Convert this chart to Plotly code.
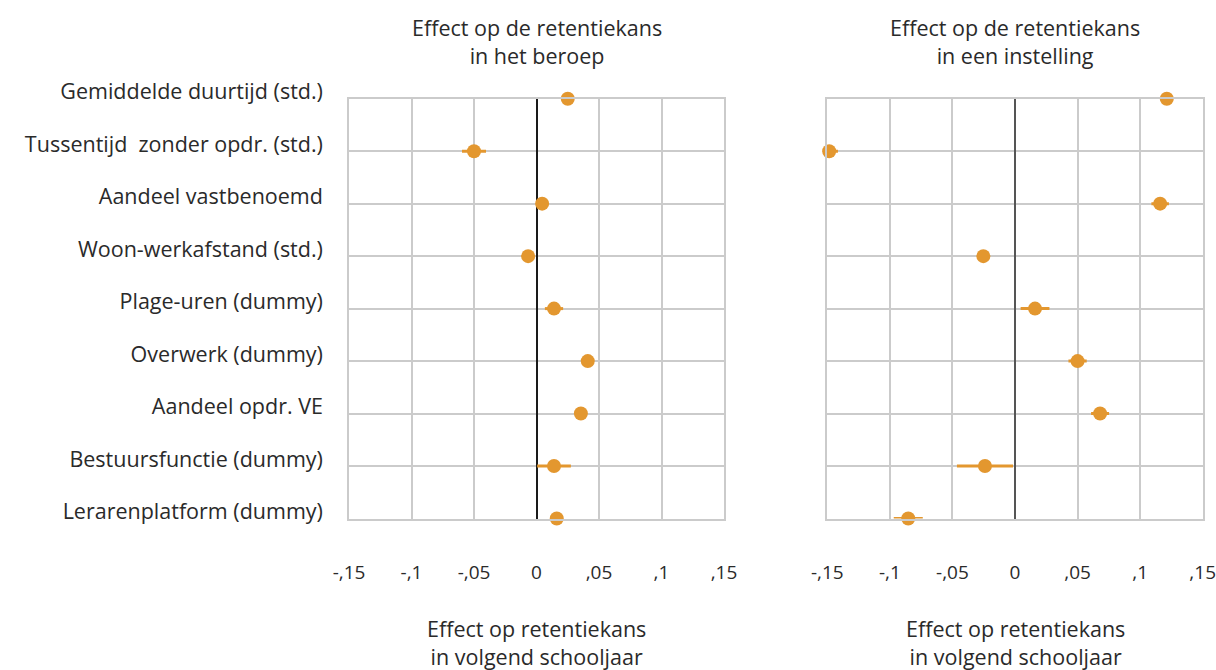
import plotly.graph_objects as go

categories = [
    "Gemiddelde duurtijd (std.)",
    "Tussentijd  zonder opdr. (std.)",
    "Aandeel vastbenoemd",
    "Woon-werkafstand (std.)",
    "Plage-uren (dummy)",
    "Overwerk (dummy)",
    "Aandeel opdr. VE",
    "Bestuursfunctie (dummy)",
    "Lerarenplatform (dummy)",
]

beroep_effect = [0.025, -0.050, 0.0045, -0.0067, 0.014, 0.041, 0.0355, 0.014, 0.0162]
beroep_err = [0.004, 0.0096, 0.004, 0.004, 0.0073, 0.004, 0.004, 0.0135, 0.004]

instelling_effect = [0.1213, -0.1485, 0.116, -0.0253, 0.016, 0.050, 0.068, -0.024, -0.0853]
instelling_err = [0.005, 0.007, 0.007, 0.005, 0.0115, 0.0073, 0.0072, 0.0224, 0.0116]

tick_vals = [-0.15, -0.1, -0.05, 0, 0.05, 0.1, 0.15]
tick_text = ["-,15", "-,1", "-,05", "0", ",05", ",1", ",15"]

top_titles = ["Effect op de retentiekans<br>in het beroep",
              "Effect op de retentiekans<br>in een instelling"]
bottom_title = "Effect op retentiekans<br>in volgend schooljaar"

ORANGE = "#E3972F"
GRID = "#CBCBCB"
TEXT = "#2a2a2a"
FONT = "Open Sans"
FS = 21.5
TICK_FS = 19

W, H = 1216, 670

fig = go.Figure()

for i, (vals, errs) in enumerate([(beroep_effect, beroep_err), (instelling_effect, instelling_err)]):
    ax = "" if i == 0 else "2"
    fig.add_trace(go.Scatter(
        x=vals, y=categories, mode="markers",
        xaxis="x" + ax, yaxis="y" + ax,
        marker=dict(color=ORANGE, size=14),
        error_x=dict(type="data", array=errs, visible=True, color=ORANGE, thickness=3, width=0),
        cliponaxis=False, showlegend=False,
    ))

x_domains = [[349 / W, 724 / W], [827.3 / W, 1202.7 / W]]
y_domain = [1 - 518.5 / H, 1 - 98.7 / H]

common_x = dict(
    range=[-0.15, 0.15], tickvals=tick_vals, ticktext=tick_text,
    showgrid=True, gridcolor=GRID, gridwidth=1.5,
    zeroline=True, zerolinewidth=1.5,
    showline=True, mirror=True, linecolor=GRID, linewidth=1.5,
    ticks="", ticklabelstandoff=36, automargin=False,
    ticklabeloverflow="allow",
    tickfont=dict(family=FONT, size=TICK_FS, color=TEXT),
    fixedrange=True,
)
common_y = dict(
    type="category", categoryorder="array", categoryarray=categories,
    range=[len(categories) - 1, 0],
    showgrid=True, gridcolor=GRID, gridwidth=1.5,
    showline=True, mirror=True, linecolor=GRID, linewidth=1.5,
    ticks="", zeroline=False, automargin=False,
    domain=y_domain,
    tickfont=dict(family=FONT, size=FS, color=TEXT),
    fixedrange=True,
)

fig.update_layout(
    template="none",
    width=W, height=H,
    margin=dict(l=0, r=0, t=0, b=0, pad=0),
    paper_bgcolor="white", plot_bgcolor="white",
    xaxis=dict(common_x, domain=x_domains[0], anchor="y", zerolinecolor="#1a1a1a"),
    yaxis=dict(common_y, anchor="x", ticklabelstandoff=20, ticklabelshift=7),
    xaxis2=dict(common_x, domain=x_domains[1], anchor="y2", zerolinecolor="#555555", zerolinewidth=2),
    yaxis2=dict(common_y, anchor="x2", showticklabels=False),
    font=dict(family=FONT, size=FS, color=TEXT),
)

annotations = []
for i in range(2):
    cx = (x_domains[i][0] + x_domains[i][1]) / 2
    annotations.append(dict(text=top_titles[i], x=cx, y=1 - 41 / H, xref="paper", yref="paper",
                            xanchor="center", yanchor="middle", showarrow=False,
                            font=dict(family=FONT, size=FS, color=TEXT)))
    annotations.append(dict(text=bottom_title, x=cx, y=0, xref="paper", yref="paper",
                            xanchor="center", yanchor="bottom", yshift=-3, showarrow=False,
                            font=dict(family=FONT, size=FS, color=TEXT)))
fig.update_layout(annotations=annotations)

fig.write_html("out.html", config=dict(displayModeBar=False))
